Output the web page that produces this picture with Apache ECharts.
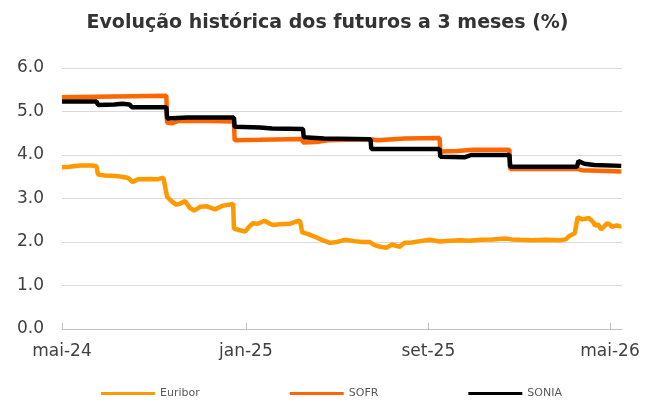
<!DOCTYPE html>
<html>
<head>
<meta charset="utf-8">
<script src="https://cdn.jsdelivr.net/npm/echarts@6/dist/echarts.min.js"></script>
<style>
  html, body { margin: 0; padding: 0; background: #fff; }
  #chart { width: 655px; height: 403px; }
</style>
</head>
<body>
<div id="chart"></div>
<script>
// x axis ticks (first day of the month) and their labels
var xTickDates = ['2024-05-01', '2025-01-01', '2025-09-01', '2026-05-01'];
var xTickLabels = ['mai-24', 'jan-25', 'set-25', 'mai-26'];
var xStart = '2024-05-01';
var xEnd = '2026-05-17';

var euriborDates = ['2024-05-01', '2024-05-11', '2024-05-25', '2024-06-10', '2024-06-16', '2024-06-18', '2024-06-27', '2024-07-10', '2024-07-20', '2024-07-28',
    '2024-08-03', '2024-08-10', '2024-08-26', '2024-09-05', '2024-09-13', '2024-09-15', '2024-09-18', '2024-09-23', '2024-09-30', '2024-10-05',
    '2024-10-12', '2024-10-18', '2024-10-24', '2024-11-01', '2024-11-10', '2024-11-21', '2024-11-30', '2024-12-11', '2024-12-15', '2024-12-16',
    '2024-12-24', '2024-12-31', '2025-01-05', '2025-01-10', '2025-01-17', '2025-01-26', '2025-02-02', '2025-02-06', '2025-02-15', '2025-03-01',
    '2025-03-09', '2025-03-14', '2025-03-17', '2025-03-25', '2025-04-03', '2025-04-12', '2025-04-23', '2025-05-02', '2025-05-13', '2025-05-26',
    '2025-06-05', '2025-06-15', '2025-06-21', '2025-06-29', '2025-07-07', '2025-07-15', '2025-07-20', '2025-07-25', '2025-07-31', '2025-08-10',
    '2025-08-21', '2025-09-03', '2025-09-16', '2025-09-30', '2025-10-13', '2025-10-26', '2025-11-09', '2025-11-25', '2025-12-12', '2025-12-21',
    '2026-01-01', '2026-01-17', '2026-02-03', '2026-02-23', '2026-03-03', '2026-03-08', '2026-03-15', '2026-03-19', '2026-03-25', '2026-03-28',
    '2026-04-03', '2026-04-09', '2026-04-11', '2026-04-15', '2026-04-19', '2026-04-23', '2026-04-27', '2026-05-01', '2026-05-03', '2026-05-10',
    '2026-05-14', '2026-05-16'];
var euriborValues = [3.72, 3.73, 3.76, 3.76, 3.74, 3.55, 3.53, 3.52, 3.50, 3.47,
    3.38, 3.44, 3.45, 3.44, 3.48, 3.46, 3.04, 2.95, 2.86, 2.88,
    2.94, 2.79, 2.72, 2.81, 2.82, 2.75, 2.83, 2.86, 2.88, 2.31,
    2.27, 2.24, 2.35, 2.43, 2.42, 2.49, 2.42, 2.39, 2.41, 2.42,
    2.47, 2.49, 2.22, 2.18, 2.12, 2.05, 1.98, 2.00, 2.05, 2.02,
    2.00, 2.00, 1.93, 1.89, 1.87, 1.94, 1.91, 1.89, 1.98, 1.99,
    2.02, 2.05, 2.01, 2.03, 2.04, 2.03, 2.05, 2.06, 2.08, 2.06,
    2.05, 2.04, 2.05, 2.04, 2.06, 2.14, 2.20, 2.57, 2.52, 2.53,
    2.55, 2.45, 2.37, 2.41, 2.29, 2.35, 2.43, 2.40, 2.35, 2.38,
    2.36, 2.37];

var sofrDates = ['2024-05-01', '2024-06-15', '2024-08-01', '2024-09-17', '2024-09-18', '2024-09-25', '2024-10-02', '2024-11-15', '2024-12-16', '2024-12-17',
    '2025-01-20', '2025-03-17', '2025-03-18', '2025-04-05', '2025-04-20', '2025-06-16', '2025-06-25', '2025-08-01', '2025-09-16', '2025-09-17',
    '2025-10-10', '2025-10-30', '2025-12-18', '2025-12-19', '2026-03-18', '2026-03-25', '2026-05-16'];
var sofrValues = [5.33, 5.34, 5.35, 5.36, 4.74, 4.73, 4.78, 4.78, 4.77, 4.34,
    4.35, 4.37, 4.29, 4.30, 4.34, 4.36, 4.34, 4.38, 4.39, 4.08,
    4.09, 4.12, 4.12, 3.68, 3.68, 3.65, 3.62];

var soniaDates = ['2024-05-01', '2024-06-16', '2024-06-18', '2024-07-10', '2024-07-20', '2024-07-30', '2024-08-02', '2024-09-17', '2024-09-18', '2024-10-15',
    '2024-12-16', '2024-12-17', '2025-01-20', '2025-02-05', '2025-03-18', '2025-03-19', '2025-04-15', '2025-06-16', '2025-06-17', '2025-09-16',
    '2025-09-17', '2025-10-20', '2025-10-28', '2025-12-18', '2025-12-19', '2026-03-18', '2026-03-20', '2026-03-28', '2026-04-10', '2026-05-16'];
var soniaValues = [5.23, 5.23, 5.15, 5.16, 5.18, 5.16, 5.10, 5.10, 4.84, 4.86,
    4.86, 4.65, 4.63, 4.61, 4.60, 4.41, 4.38, 4.36, 4.14, 4.14,
    3.96, 3.95, 4.00, 4.00, 3.73, 3.73, 3.86, 3.80, 3.77, 3.75];

function ts(d) {
    return +echarts.time.parse(d);
}

function zip(dates, values) {
    return dates.map(function (d, i) { return [ts(d), values[i]]; });
}

var tickValues = xTickDates.map(ts);

var chart = echarts.init(document.getElementById('chart'), null, {renderer: 'canvas'});

var option = {
    animation: false,
    backgroundColor: '#ffffff',
    textStyle: {fontFamily: 'DejaVu Sans'},
    title: {
        text: 'Evolução histórica dos futuros a 3 meses (%)',
        left: 'center',
        top: 9,
        textStyle: {fontFamily: 'DejaVu Sans', fontSize: 19, fontWeight: 'bold', color: '#333333'}
    },
    grid: {left: 62, right: 33, top: 68, bottom: 74, containLabel: false},
    legend: {
        left: 96,
        top: 383,
        itemWidth: 54,
        itemHeight: 3,
        itemGap: 90,
        icon: 'rect',
        textStyle: {fontFamily: 'DejaVu Sans', fontSize: 11, color: '#595959'},
        data: ['Euribor', 'SOFR', 'SONIA']
    },
    xAxis: {
        type: 'value',
        min: ts(xStart),
        max: ts(xEnd),
        axisLine: {lineStyle: {color: '#bfbfbf', width: 1}},
        // negative length draws the ticks upward, into the plot
        axisTick: {show: true, inside: false, length: -6, lineStyle: {color: '#bfbfbf', width: 1}, customValues: tickValues},
        splitLine: {show: false},
        axisLabel: {
            customValues: tickValues,
            margin: 14,
            fontSize: 17,
            color: '#404040',
            hideOverlap: false,
            formatter: function (val) {
                var i = tickValues.indexOf(+val);
                return i >= 0 ? xTickLabels[i] : '';
            }
        }
    },
    yAxis: {
        type: 'value',
        min: 0,
        max: 6,
        interval: 1,
        axisLine: {show: false},
        axisTick: {show: false},
        splitLine: {lineStyle: {color: '#d9d9d9', width: 1}},
        axisLabel: {
            margin: 18,
            fontSize: 17,
            color: '#404040',
            formatter: function (v) { return v.toFixed(1); }
        }
    },
    series: [
        {
            name: 'Euribor', type: 'line', showSymbol: false, symbol: 'none',
            lineStyle: {color: '#ff9900', width: 4.5},
            itemStyle: {color: '#ff9900'},
            data: zip(euriborDates, euriborValues)
        },
        {
            name: 'SOFR', type: 'line', showSymbol: false, symbol: 'none',
            lineStyle: {color: '#ff6600', width: 4.5},
            itemStyle: {color: '#ff6600'},
            data: zip(sofrDates, sofrValues)
        },
        {
            name: 'SONIA', type: 'line', showSymbol: false, symbol: 'none',
            lineStyle: {color: '#000000', width: 4.5},
            itemStyle: {color: '#000000'},
            data: zip(soniaDates, soniaValues)
        }
    ]
};

chart.setOption(option);
</script>
</body>
</html>
